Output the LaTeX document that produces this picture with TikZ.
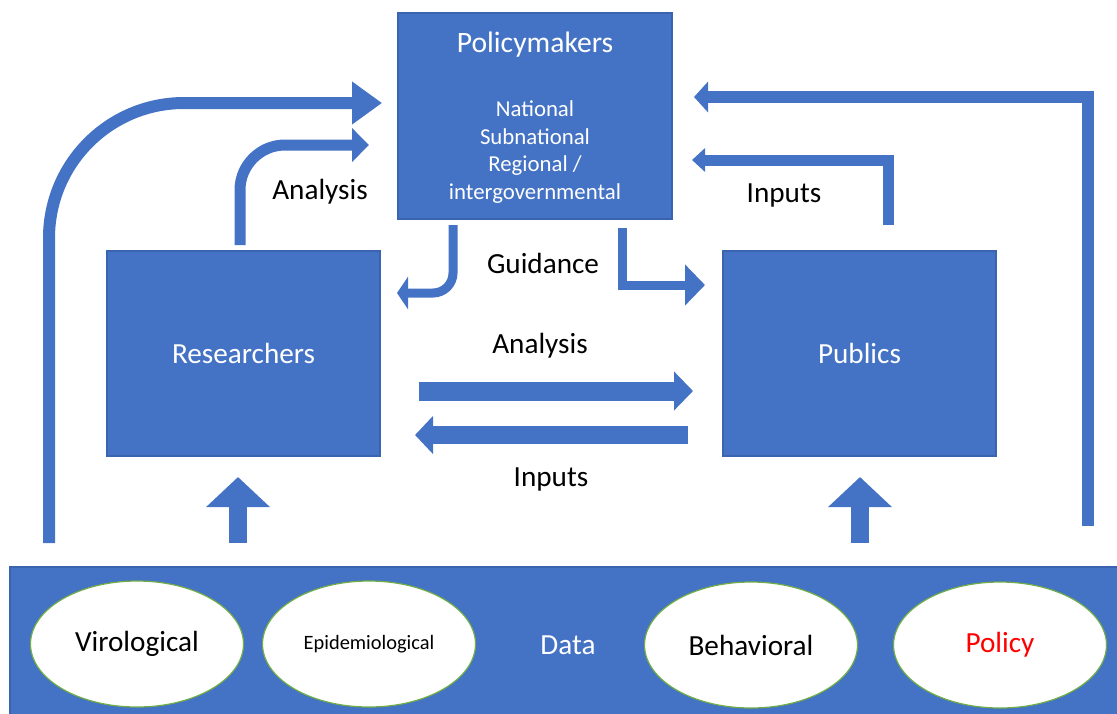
\documentclass[tikz,border=0pt]{standalone}
\usepackage{fontspec}
\setmainfont{Carlito}
\usetikzlibrary{arrows.meta}
\usetikzlibrary{shapes.geometric}

\definecolor{officeblue}{HTML}{4472C4}
\definecolor{edgeblue}{HTML}{3A64B0}
\definecolor{leafgreen}{HTML}{70AD47}

\begin{document}
\begin{tikzpicture}[x=0.5pt,y=-0.5pt,
    box/.style={rectangle,fill=officeblue,draw=edgeblue,line width=0.6pt,text=white,inner sep=0pt,minimum width=136.5pt,minimum height=102.5pt},
    source/.style={ellipse,fill=white,draw=leafgreen,line width=0.6pt,minimum width=106.5pt,minimum height=63pt,inner sep=0pt},
    flow/.style n args={3}{draw=officeblue,line width=#1,-{Triangle[length=#2,width=#3]}},
    lbl/.style={font=\fontsize{14.6}{17}\selectfont}]
  \useasboundingbox (0,0) rectangle (1117,713);

  % the three actors
  \node[box,minimum width=137pt,minimum height=103pt] (pol) at (535,116) {};
  \node[text=white,font=\fontsize{14.8}{17}\selectfont] (poltitle) at (535,45) {Policymakers};
  \node[text=white,align=center,font=\fontsize{11.4}{13.75}\selectfont] (levels) at (535,152) {National\\Subnational\\Regional /\\intergovernmental};
  \node[box,lbl] (res) at (243.5,353.5) {Researchers};
  \node[box,lbl] (pub) at (859.5,353.5) {Publics};

  % data band with its sources
  \node[rectangle,fill=officeblue,draw=edgeblue,line width=0.6pt,minimum width=560pt,minimum height=81.5pt,inner sep=0pt] (data) at (570,648.5) {};
  \node[lbl,text=white] (datatxt) at (568,645) {Data};
  \node[source,lbl] (vir) at (137,644) {Virological};
  \node[source,font=\fontsize{10.2}{12}\selectfont] (epi) at (369,644) {Epidemiological};
  \node[source,lbl] (beh) at (751,645) {Behavioral};
  \node[source,lbl,text=red] (plc) at (1000,645) {Policy};

  % labels
  \node[lbl] (anup) at (320,192) {Analysis};
  \node[lbl] (guid) at (543,263) {Guidance};
  \node[lbl] (inup) at (784,195) {Inputs};
  \node[lbl] (anmid) at (540,346) {Analysis};
  \node[lbl] (inmid) at (551,479) {Inputs};

  % arrow ends
  \coordinate (dl) at (49,543);    \coordinate (dlend) at (382,103);
  \coordinate (ra) at (240,245);   \coordinate (raend) at (369,145);
  \coordinate (dr) at (1088,526);  \coordinate (drend) at (694,97);
  \coordinate (pa) at (888,225);   \coordinate (paend) at (692,160);
  \coordinate (gl) at (453,225);   \coordinate (glend) at (397,293);
  \coordinate (gr) at (622,228);   \coordinate (grend) at (705,285);
  \coordinate (an) at (419,391);   \coordinate (anend) at (693,391);
  \coordinate (in) at (688,435);   \coordinate (inend) at (415,435);
  \coordinate (ur) at (238,543);   \coordinate (urend) at (238,477);
  \coordinate (up) at (860,543);   \coordinate (upend) at (860,477);

  % arrows
  \draw[flow={6pt}{15pt}{20.5pt},rounded corners=67.5pt] (dl) |- (dlend);
  \draw[flow={5.5pt}{8.5pt}{16.5pt},rounded corners=22.5pt] (ra) |- (raend);
  \draw[flow={6pt}{7pt}{15pt}] (dr) |- (drend);
  \draw[flow={5.5pt}{6.5pt}{11.5pt}] (pa) |- (paend);
  \draw[flow={4.5pt}{5.5pt}{16pt},rounded corners=10pt] (gl) |- (glend);
  \draw[flow={4.5pt}{10pt}{20pt}] (gr) |- (grend);
  \draw[flow={9.5pt}{9.5pt}{19pt}] (an) -- (anend);
  \draw[flow={9pt}{9pt}{18.5pt}] (in) -- (inend);
  \draw[flow={9pt}{15pt}{31pt}] (ur) -- (urend);
  \draw[flow={9pt}{15pt}{31pt}] (up) -- (upend);
\end{tikzpicture}
\end{document}
